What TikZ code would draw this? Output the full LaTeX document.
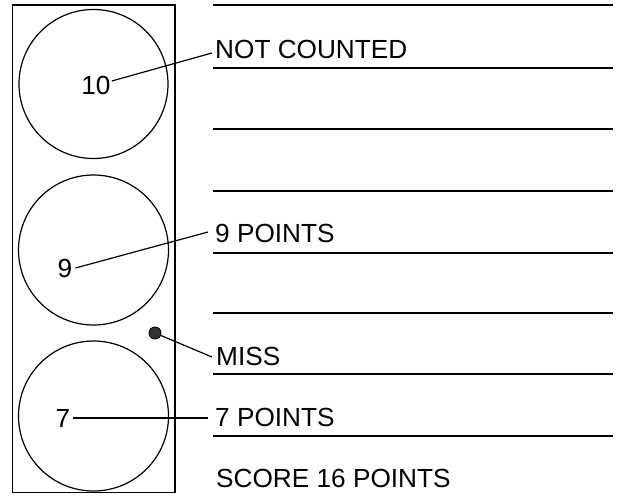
\documentclass[tikz,border=0pt]{standalone}
\usepackage{fontspec}
\setmainfont{Liberation Sans}
\begin{document}
\begin{tikzpicture}[x=1pt,y=-1pt,
  lbl/.style={inner sep=0pt,anchor=base west,font=\fontsize{26.2}{28}\selectfont},
  num/.style={inner sep=1pt,font=\fontsize{26.2}{28}\selectfont},
  rule/.style={line width=1.7pt},
  target/.style={line width=1.2pt},
  leader/.style={line width=1.2pt}]
\useasboundingbox (0,0) rectangle (620,495);
% frame and targets
\draw[line width=1.3pt] (12.5,5) rectangle (175,492.5);
\draw[target] (93.5,84) circle (74.5);
\draw[target] (93.5,250) circle (75);
\draw[target] (93.5,416) circle (75);
% ruled lines
\foreach \y in {5,68,129,191,253,313,374,436}
  \draw[rule] (213,\y) -- (613,\y);
% labels
\node[lbl] (nc) at (215,58) {NOT COUNTED};
\node[lbl] (p9) at (215,242) {9 POINTS};
\node[lbl] (miss) at (216,365) {MISS};
\node[lbl] (p7) at (215,426) {7 POINTS};
\node[lbl] (score) at (216,487) {SCORE 16 POINTS};
% numbers
\node[num] (n10) at (96,85) {10};
\node[num] (n9) at (65,268) {9};
\node[num] (n7) at (63,418) {7};
% miss hole
\node[circle,draw,line width=0.9pt,fill=black!80,minimum size=12pt,inner sep=0pt] (hole) at (155,333) {};
% leaders
\coordinate (e10) at (212,53);
\coordinate (e9) at (208,232);
\coordinate (em) at (212,357);
\coordinate (e7) at (208,418);
\draw[leader] (n10.east) ++(0,-4) -- (e10);
\draw[leader] (n9.east) ++(2,0) -- (e9);
\draw[leader] (hole) -- (em);
\draw[leader] (n7.east) ++(2,0) -- (e7);
\end{tikzpicture}
\end{document}
